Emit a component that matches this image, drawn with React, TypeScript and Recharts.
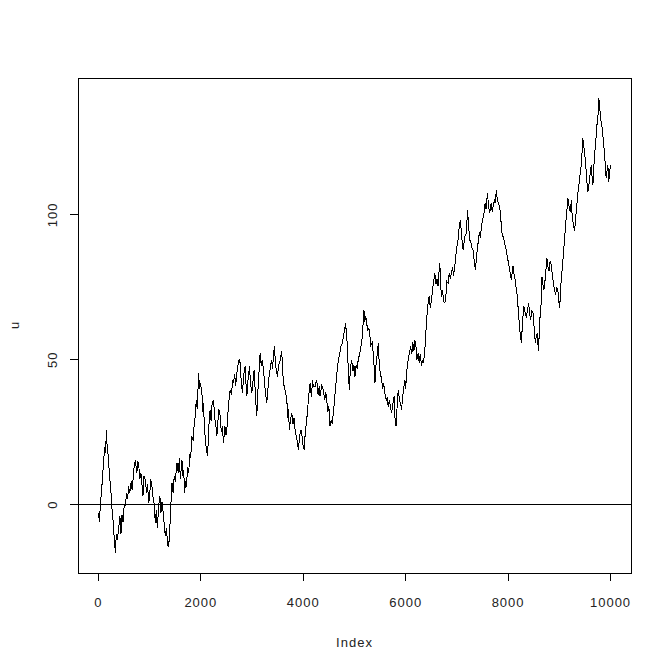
import {
  LineChart,
  Line,
  XAxis,
  YAxis,
  ReferenceLine,
  ReferenceArea,
  Label,
} from 'recharts';

// index and value pairs
const index = [
  1, 20, 40, 60, 80, 100, 120, 140, 156, 170, 190, 210, 234, 255, 270, 290, 310, 331, 350, 370,
  396, 420, 440, 461, 480, 500, 526, 550, 570, 591, 610, 640, 660, 690, 721, 750, 770, 786, 810, 830,
  851, 870, 890, 916, 940, 960, 981, 1000, 1020, 1046, 1070, 1090, 1111, 1130, 1150, 1176, 1200, 1220, 1240, 1260,
  1280, 1306, 1330, 1350, 1371, 1390, 1404, 1420, 1436, 1460, 1480, 1500, 1533, 1560, 1580, 1600, 1631, 1650, 1665, 1683,
  1700, 1720, 1740, 1761, 1790, 1800, 1826, 1850, 1870, 1891, 1910, 1930, 1956, 1975, 1990, 2021, 2040, 2050, 2072, 2090,
  2110, 2131, 2150, 2165, 2183, 2200, 2220, 2248, 2270, 2290, 2313, 2330, 2350, 2378, 2400, 2420, 2443, 2470, 2490, 2508,
  2530, 2550, 2573, 2600, 2620, 2638, 2660, 2680, 2703, 2725, 2748, 2768, 2790, 2813, 2833, 2852, 2865, 2880, 2898, 2920,
  2950, 2970, 2996, 3020, 3041, 3060, 3075, 3093, 3110, 3130, 3158, 3180, 3200, 3222, 3245, 3265, 3288, 3310, 3330, 3353,
  3380, 3400, 3420, 3437, 3460, 3480, 3495, 3520, 3550, 3580, 3596, 3612, 3640, 3660, 3678, 3700, 3710, 3729, 3750, 3775,
  3800, 3820, 3840, 3860, 3880, 3905, 3930, 3957, 3980, 4000, 4016, 4040, 4068, 4090, 4110, 4133, 4160, 4180, 4197, 4230,
  4262, 4290, 4313, 4327, 4360, 4392, 4420, 4440, 4458, 4480, 4500, 4522, 4545, 4565, 4587, 4610, 4633, 4660, 4680, 4698,
  4720, 4740, 4762, 4785, 4805, 4828, 4845, 4860, 4880, 4899, 4920, 4945, 4970, 4990, 5010, 5030, 5050, 5074, 5100, 5120,
  5140, 5160, 5175, 5185, 5200, 5220, 5238, 5260, 5280, 5302, 5320, 5345, 5366, 5383, 5400, 5420, 5445, 5464, 5480, 5500,
  5530, 5550, 5570, 5594, 5620, 5640, 5659, 5680, 5700, 5724, 5745, 5760, 5775, 5789, 5810, 5830, 5855, 5880, 5900, 5920,
  5940, 5960, 5984, 6000, 6020, 6049, 6070, 6096, 6120, 6140, 6160, 6179, 6200, 6220, 6244, 6265, 6285, 6310, 6330, 6350,
  6374, 6390, 6407, 6420, 6438, 6460, 6480, 6504, 6525, 6545, 6569, 6590, 6610, 6634, 6650, 6667, 6683, 6698, 6720, 6740,
  6764, 6785, 6805, 6829, 6850, 6870, 6894, 6915, 6935, 6959, 6980, 7000, 7023, 7045, 7070, 7090, 7121, 7154, 7187, 7206,
  7230, 7251, 7280, 7300, 7316, 7340, 7362, 7385, 7413, 7440, 7460, 7479, 7500, 7530, 7550, 7570, 7596, 7620, 7641, 7670,
  7690, 7706, 7730, 7750, 7771, 7790, 7810, 7836, 7860, 7881, 7910, 7934, 7960, 7986, 8010, 8031, 8050, 8064, 8080, 8096,
  8110, 8129, 8155, 8181, 8195, 8207, 8230, 8259, 8285, 8310, 8335, 8357, 8380, 8402, 8420, 8441, 8465, 8486, 8510, 8532,
  8550, 8571, 8585, 8596, 8616, 8635, 8661, 8680, 8700, 8713, 8735, 8758, 8780, 8797, 8820, 8844, 8865, 8889, 8910, 8928,
  8950, 8973, 8990, 9006, 9020, 9039, 9060, 9084, 9105, 9123, 9145, 9168, 9190, 9214, 9235, 9253, 9275, 9298, 9320, 9343,
  9365, 9382, 9405, 9429, 9445, 9460, 9475, 9493, 9510, 9526, 9540, 9558, 9575, 9591, 9605, 9624, 9640, 9656, 9670, 9688,
  9705, 9721, 9735, 9753, 9772, 9790, 9805, 9830, 9850, 9865, 9883, 9900, 9916, 9930, 9948, 9967, 9985, 10000,
];

const u = [
  -3, -6, 1, 4, 10, 14, 20, 18, 25.6, 20, 17, 12, 6.3, 2, -3, -6, -12, -16.6, -10, -12,
  -8, -4, -10, -3.5, -6, -1, 0, 4, 2, 6.3, 4, 8, 5, 12, 15.5, 11, 15, 13.8, 9, 11,
  6.9, 3, 10, 8.6, 4, 7, 0.6, 3, 9, 6.3, 2, 0, -6.3, -2, -8, -0.6, 3, -3, 1, -2,
  -6, -10.9, -8, -14, -14.4, -10, -4, 2, 7.5, 4, 10, 8, 14.4, 11, 16, 9, 15.5, 10, 12, 4,
  8, 6, 13, 10.9, 18, 16, 23.6, 22, 28, 30.5, 36, 33, 45.4, 40, 42, 38.5, 32, 35, 25.9, 22,
  19, 16.7, 24, 30, 32.8, 29, 35, 36.2, 30, 28, 23.6, 28, 33, 30.5, 25, 27, 21.3, 27, 24, 25.9,
  32, 36, 39.7, 38, 43, 42, 45, 41, 45.4, 48, 50, 48.9, 42, 38.5, 44, 46.6, 47.7, 42, 37.4, 43,
  47.7, 42, 38.5, 43, 46.6, 40, 35, 30.5, 38, 44, 52.3, 48, 50, 46.6, 42, 38, 35.1, 40, 44, 46.6,
  50, 47, 52, 54.6, 48, 46, 44.2, 48, 50, 52.9, 47, 42, 40, 38, 36.2, 30, 33, 25.9, 29, 31.6,
  28, 30, 25.9, 24, 22, 19, 24, 25.9, 23, 20, 19, 25, 29.3, 34, 38, 42, 37, 43, 40.8, 40.8,
  43.1, 38, 40.8, 37.4, 41, 39.7, 36, 39, 36.2, 32, 34, 27, 29, 28, 31.6, 36, 40.8, 46, 49, 51.1,
  53, 55, 55.7, 58, 60, 62.6, 58, 55.7, 46, 39.7, 47, 50, 46, 48, 44.2, 48, 47, 50, 52, 54,
  55.7, 60, 64, 67.2, 63, 65, 62.6, 60, 61, 58, 55, 56, 52.3, 48, 42, 48, 52, 55.7, 50, 46,
  43.1, 40, 42, 38.5, 36, 37, 33.9, 36, 34, 31.6, 34, 36, 37.4, 30.5, 27, 33, 39.7, 36, 35, 32.8,
  37, 40, 43.1, 40, 46, 50, 52, 54.6, 52, 56, 53, 56.9, 55, 50, 52.3, 49, 52, 47.7, 50, 49,
  53.4, 58, 63.8, 66, 69.6, 72, 68, 70.7, 74, 77, 79.9, 76, 78, 75.3, 80, 83.3, 76, 71.8, 74, 70,
  69.6, 72, 77, 76.4, 80, 78, 79.9, 82, 79, 82.2, 86, 89, 91.4, 96, 98.3, 93, 87.9, 92.5, 93.7, 101.7,
  96, 91.4, 90, 88, 87.9, 84, 81, 86, 90.2, 94, 92, 96, 98, 100.6, 104, 102, 107.5, 103, 100.6, 104,
  101, 102.9, 105, 104, 108.6, 105, 104, 102.9, 98, 93.7, 92, 90.2, 88, 85.6, 83, 81, 79, 77.6, 80, 82.2,
  80, 78.7, 75, 71.8, 68, 64.9, 60, 55.7, 64, 68.4, 66, 64.9, 67, 69.6, 66, 63.8, 67, 66.1, 61, 55.7,
  58, 59.2, 55, 53, 64.4, 64.9, 78.7, 76, 74.1, 75.9, 80, 85.1, 82, 80.5, 84, 82.8, 79, 75.9, 74, 72.4,
  75, 73.6, 70, 67.8, 72, 78.2, 82, 87.4, 92, 96.6, 101, 105.7, 103, 101.1, 105, 98.9, 97, 94.3, 99, 103.4,
  108, 110.3, 114, 117.2, 122, 126.4, 124, 121.8, 118, 114.9, 111, 108, 110, 111.5, 115, 117.2, 113, 110.3, 115, 120.7,
  124, 127.6, 131, 133.3, 140.2, 137, 133.3, 131, 127.6, 124, 121.8, 116, 112.6, 115, 117.2, 111.5, 115, 117.2,
];

const xTicks = [0, 2000, 4000, 6000, 8000, 10000];
const yTicks = [0, 50, 100];

const data = index.map((i, k) => ({ index: i, u: u[k] }));

const X_DOMAIN = [-398.96, 10399.96];
const Y_DOMAIN = [-23.55, 147.2];
const FONT = "'Liberation Sans', Arial, sans-serif";
const TEXT_COLOR = '#222';

function XTick({ x, y, payload }: any) {
  return (
    <text x={x} y={y} dy={25.7} textAnchor='middle' fontFamily={FONT} fontSize={13} letterSpacing={1} fill={TEXT_COLOR}>
      {payload.value}
    </text>
  );
}

function YTick({ x, y, payload }: any) {
  return (
    <text
      transform={`translate(${x - 12.7},${y}) rotate(-90)`}
      textAnchor='middle'
      fontFamily={FONT}
      fontSize={13}
      letterSpacing={1}
      fill={TEXT_COLOR}
    >
      {payload.value}
    </text>
  );
}

export default function App() {
  return (
    <div>
      <style>{'svg line, svg path, svg rect { shape-rendering: crispEdges; }'}</style>
      <LineChart
        width={656}
        height={655}
        data={data}
        margin={{ top: 70, right: 33, left: 0, bottom: 0 }}
        style={{ fontFamily: FONT }}
      >
        <XAxis
          dataKey='index'
          type='number'
          domain={X_DOMAIN}
          allowDataOverflow
          ticks={xTicks}
          axisLine={false}
          tickLine={{ stroke: '#000' }}
          tickSize={8}
          tickMargin={0}
          height={90}
          tick={<XTick />}
        >
          <Label
            value='Index'
            position='insideBottom'
            offset={16.3}
            style={{ fontFamily: FONT, fontSize: 13, letterSpacing: 1, fill: TEXT_COLOR }}
          />
        </XAxis>
        <YAxis
          type='number'
          domain={Y_DOMAIN}
          allowDataOverflow
          ticks={yTicks}
          axisLine={false}
          tickLine={{ stroke: '#000' }}
          tickSize={8}
          tickMargin={0}
          width={70}
          tick={<YTick />}
        >
          <Label
            content={({ viewBox }: any) => (
              <text
                transform={`translate(${viewBox.x + 11},${viewBox.y + viewBox.height / 2}) rotate(-90)`}
                textAnchor='middle'
                fontFamily={FONT}
                fontSize={13}
                fill={TEXT_COLOR}
              >
                u
              </text>
            )}
          />
        </YAxis>
        <ReferenceArea
          x1={X_DOMAIN[0]}
          x2={X_DOMAIN[1]}
          y1={Y_DOMAIN[0]}
          y2={Y_DOMAIN[1]}
          fill='none'
          fillOpacity={0}
          stroke='#000'
          strokeWidth={1}
          ifOverflow='visible'
        />
        <ReferenceLine y={0} stroke='#000' strokeWidth={1} />
        <Line
          type='linear'
          dataKey='u'
          stroke='#000'
          strokeWidth={1}
          dot={false}
          isAnimationActive={false}
        />
      </LineChart>
    </div>
  );
}
